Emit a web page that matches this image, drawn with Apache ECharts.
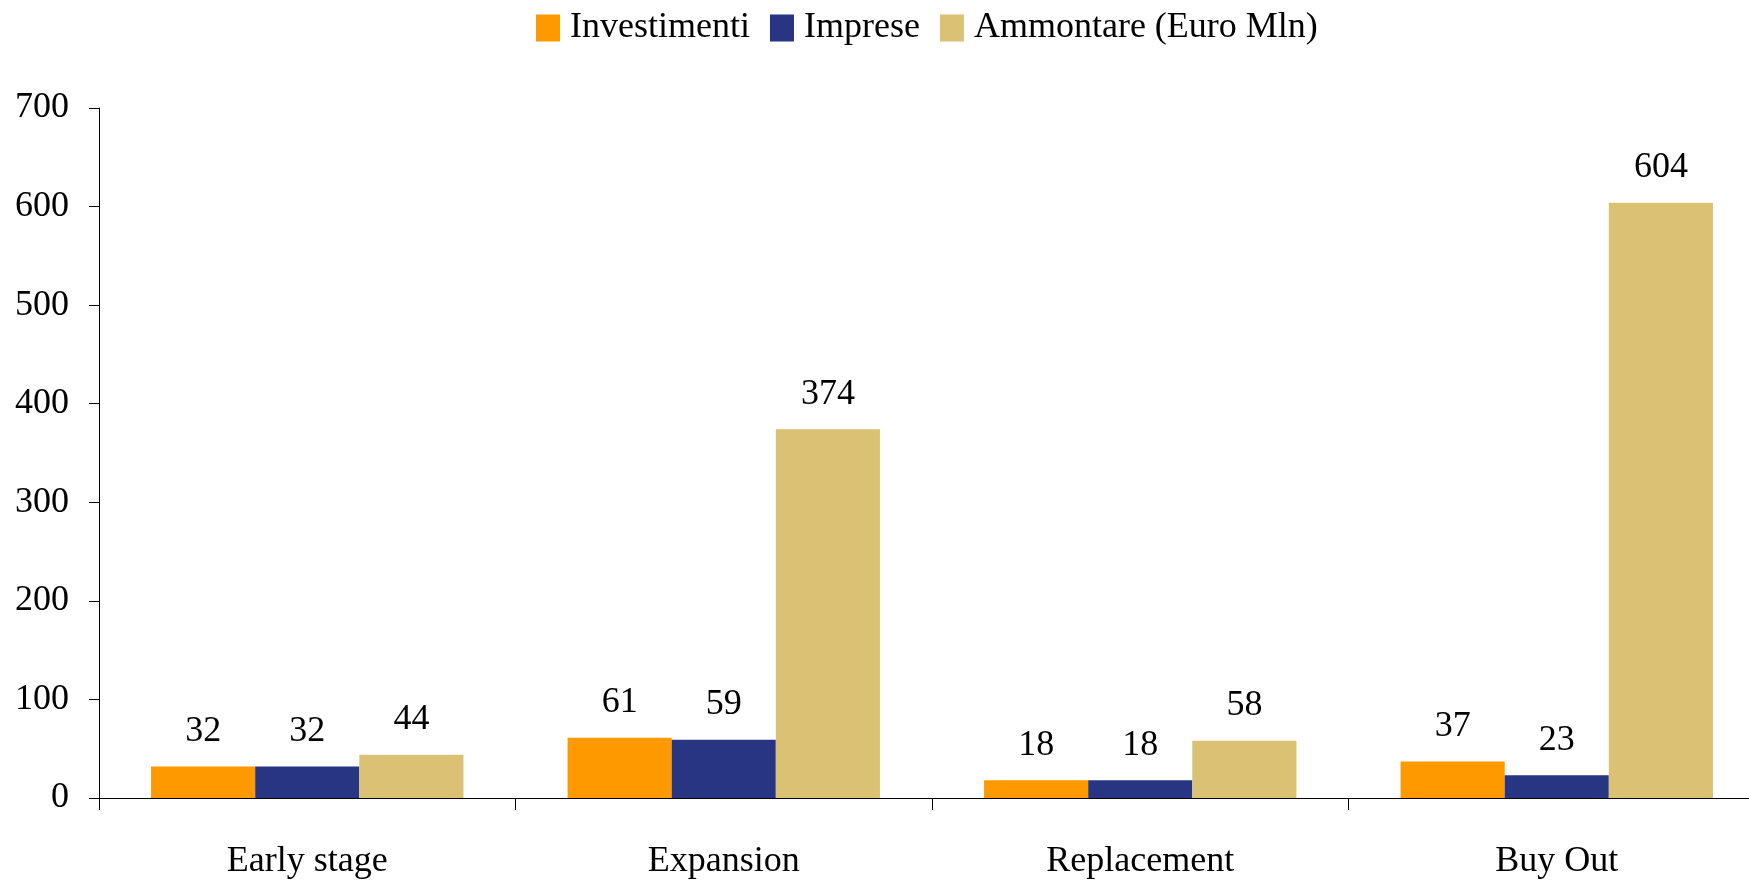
<!DOCTYPE html>
<html>
<head>
<meta charset="utf-8">
<script src="https://cdn.jsdelivr.net/npm/echarts@6/dist/echarts.min.js"></script>
<style>
html,body{margin:0;padding:0;background:#fff;overflow:hidden;width:1749px;height:880px;}
#chart{width:1800px;height:880px;}
</style>
</head>
<body>
<div id="chart"></div>
<script>
const categories = ['Early stage', 'Expansion', 'Replacement', 'Buy Out'];
const seriesNames = ['Investimenti', 'Imprese', 'Ammontare (Euro Mln)'];
const investimenti = [32, 61, 18, 37];
const imprese = [32, 59, 18, 23];
const ammontare = [44, 374, 58, 604];
const colors = ['#FF9900', '#283583', '#DBC174'];
const yMin = 0, yMax = 700, yInterval = 100;

const font = 'Liberation Serif, Times New Roman, serif';
const chart = echarts.init(document.getElementById('chart'), null, {renderer: 'canvas'});
const mk = (name, data, color) => ({
  name, type: 'bar', data,
  itemStyle: {color},
  barGap: '0%', barCategoryGap: '25%',
  label: {show: true, position: 'top', distance: 17, color: '#000', fontFamily: font, fontSize: 36},
  emphasis: {disabled: true}
});
chart.setOption({
  animation: false,
  backgroundColor: '#fff',
  legend: {
    left: 531, top: 5,
    icon: 'rect', itemWidth: 24, itemHeight: 27, itemGap: 20,
    textStyle: {fontFamily: font, fontSize: 36, color: '#000', padding: [0, 0, 0, 5]},
    data: seriesNames
  },
  grid: {left: 99, top: 108, width: 1666, height: 690.5},
  xAxis: {
    type: 'category', data: categories,
    axisLine: {show: true, lineStyle: {color: '#000', width: 1}},
    axisTick: {show: true, length: 12, lineStyle: {color: '#000'}},
    axisLabel: {fontFamily: font, fontSize: 36, color: '#000', margin: 46}
  },
  yAxis: {
    type: 'value', min: yMin, max: yMax, interval: yInterval,
    axisLine: {show: true, lineStyle: {color: '#000', width: 1}},
    axisTick: {show: true, length: 10, lineStyle: {color: '#000'}},
    axisLabel: {fontFamily: font, fontSize: 36, color: '#000', margin: 30, padding: [8, 0, 0, 0]},
    splitLine: {show: false}
  },
  series: [
    mk(seriesNames[0], investimenti, colors[0]),
    mk(seriesNames[1], imprese, colors[1]),
    mk(seriesNames[2], ammontare, colors[2])
  ]
});
</script>
</body>
</html>
